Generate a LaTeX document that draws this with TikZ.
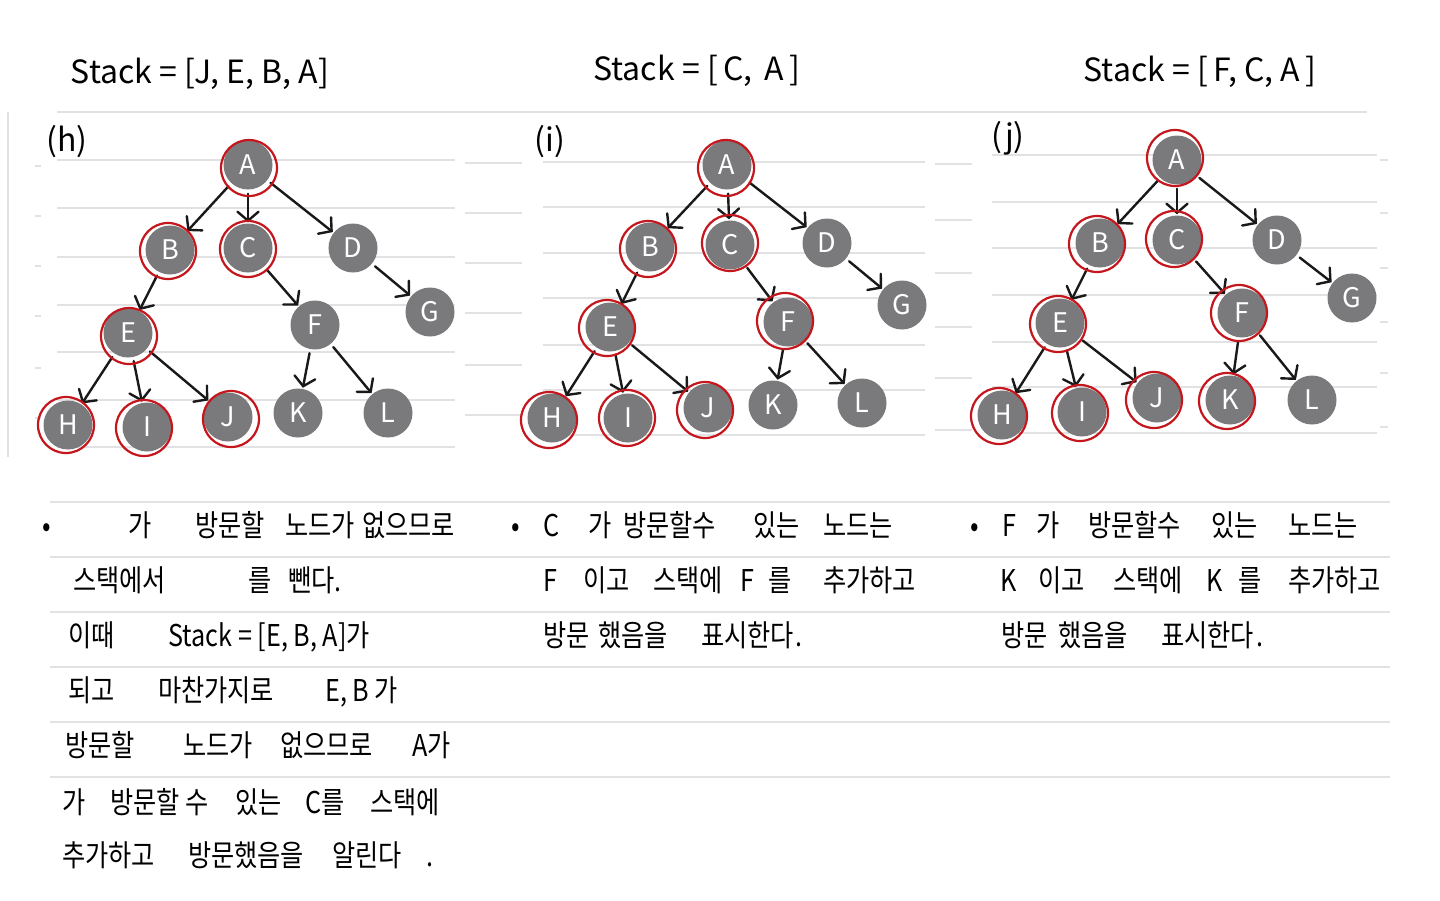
\documentclass[tikz,border=0pt]{standalone}
\usepackage{fontspec}
\setmainfont{Noto Sans CJK KR}
\newfontfamily\notefont{Noto Sans CJK KR}[FakeStretch=0.84]
\usetikzlibrary{arrows.meta,calc}
\definecolor{nodegray}{RGB}{122,122,124}
\definecolor{inkred}{RGB}{196,22,28}
\definecolor{rulegray}{RGB}{226,226,229}
\begin{document}
\begin{tikzpicture}[x=1pt,y=-1pt,
  vertex/.style={circle,fill=nodegray,text=white,minimum size=49pt,inner sep=0pt,
    font=\fontsize{27}{27}\selectfont},
  edge/.style={draw=black!90,line width=2.4pt,line cap=round,
    -{Straight Barb[length=9pt,width=21pt,line cap=round]},shorten <=4pt,shorten >=1pt},
  ring/.style={draw=inkred,line width=2.2pt},
  ruleline/.style={draw=rulegray,line width=1.2pt},
  title/.style={font=\fontsize{32}{34}\selectfont,inner sep=0pt},
  txt/.style={anchor=west,font=\notefont\fontsize{30}{32}\selectfont,inner sep=0pt,
    text height=22pt,text depth=6pt}]

\useasboundingbox (0,0) rectangle (1440,900);
\fill[white] (0,0) rectangle (1440,900);

% ---------- ruled paper ----------
\draw[ruleline] (8,112) -- (8,457);
\draw[ruleline] (57,112) -- (480,112);
\foreach \y in {160,208,257,305,352,400,447} \draw[ruleline] (57,\y) -- (455,\y);
\foreach \y in {163,213,263,313,365,415} {
  \draw[ruleline] (35,\y+3) -- (41,\y+3);
  \draw[ruleline] (465,\y) -- (522,\y);
}
\draw[ruleline] (480,112) -- (960,112);
\foreach \y in {162,207,253,298,345,390,435} \draw[ruleline] (543,\y) -- (925,\y);
\foreach \y in {164,220,273,327,378,430} \draw[ruleline] (935,\y) -- (972,\y);
\draw[ruleline] (960,112) -- (1367,112);
\foreach \y in {155,202,248,295,342,387,433} \draw[ruleline] (992,\y) -- (1377,\y);
\foreach \y in {160,213,268,322,373,427} \draw[ruleline] (1380,\y) -- (1388,\y);
\foreach \y in {502,557,612,667,722,777} \draw[ruleline] (50,\y) -- (1390,\y);

% ---------- stack titles and panel labels ----------
\node[title] (th) at (200,74) {Stack = [J, E, B, A]};
\node[title] (ti) at (697,71) {Stack = [\,C,\, A\,]};
\node[title] (tj) at (1200,72) {Stack = [\,F, C, A\,]};
\node[title] (lh) at (67,142) {(h)};
\node[title] (li) at (550,142) {(i)};
\node[title] (lj) at (1008,138) {(j)};

% ---------- tree (h) ----------
\node[vertex] (hA) at (248,165) {A};
\node[vertex] (hB) at (170,250) {B};
\node[vertex] (hC) at (248,248) {C};
\node[vertex] (hD) at (353,248) {D};
\node[vertex] (hE) at (128,333) {E};
\node[vertex] (hF) at (315,325) {F};
\node[vertex] (hG) at (430,312) {G};
\node[vertex] (hH) at (68,425) {H};
\node[vertex] (hI) at (147,427) {I};
\node[vertex] (hJ) at (228,417) {J};
\node[vertex] (hK) at (298,413) {K};
\node[vertex] (hL) at (388,413) {L};

% ---------- tree (i) ----------
\node[vertex] (iA) at (727,165) {A};
\node[vertex] (iB) at (650,247) {B};
\node[vertex] (iC) at (730,245) {C};
\node[vertex] (iD) at (827,243) {D};
\node[vertex] (iE) at (610,327) {E};
\node[vertex] (iF) at (788,322) {F};
\node[vertex] (iG) at (902,305) {G};
\node[vertex] (iH) at (552,418) {H};
\node[vertex] (iI) at (628,418) {I};
\node[vertex] (iJ) at (708,408) {J};
\node[vertex] (iK) at (773,405) {K};
\node[vertex] (iL) at (862,403) {L};

% ---------- tree (j) ----------
\node[vertex] (jA) at (1177,160) {A};
\node[vertex] (jB) at (1100,243) {B};
\node[vertex] (jC) at (1177,240) {C};
\node[vertex] (jD) at (1277,240) {D};
\node[vertex] (jE) at (1060,323) {E};
\node[vertex] (jF) at (1242,313) {F};
\node[vertex] (jG) at (1352,298) {G};
\node[vertex] (jH) at (1002,415) {H};
\node[vertex] (jI) at (1082,412) {I};
\node[vertex] (jJ) at (1157,398) {J};
\node[vertex] (jK) at (1230,400) {K};
\node[vertex] (jL) at (1312,400) {L};

% ---------- parent -> child arrows ----------
\foreach \p in {h,i,j}
  \foreach \a/\b in {A/B,A/C,A/D,B/E,C/F,D/G,E/H,E/I,E/J,F/K,F/L}
    \draw[edge] (\p\a) -- (\p\b);

% ---------- visited marks ----------
\foreach \n/\dx/\dy in {A/1/-3,B/-2/-1,C/0/-1,E/1/-3,H/-2/0,I/-3/-1,J/3/-2}
  \draw[ring] ($(h\n)+(\dx pt,\dy pt)$) circle[radius=28pt];
\foreach \n/\dx/\dy in {A/-1/-3,B/-2/-2,C/0/2,E/-3/-1,F/-3/1,H/-3/-2,I/-1/0,J/-3/-2}
  \draw[ring] ($(i\n)+(\dx pt,\dy pt)$) circle[radius=28pt];
\foreach \n/\dx/\dy in {A/-2/2,B/-3/-1,C/-3/1,E/-2/-1,F/-3/0,H/-3/-1,I/-2/-1,J/-3/-2,K/-3/-1}
  \draw[ring] ($(j\n)+(\dx pt,\dy pt)$) circle[radius=28pt];

% ---------- notes ----------
\foreach \x/\y/\t [count=\k] in {
  42/528/•, 128/528/가, 195/528/방문할, 285/528/노드가, 362/528/없으므로,
  73/583/스택에서, 248/583/를, 288/583/뺀다.,
  68/638/이때, 168/638/{Stack = [E, B, A]가},
  68/693/되고, 158/693/마찬가지로, 325/693/{E, B 가},
  65/748/방문할, 183/748/노드가, 280/748/없으므로, 412/748/A가,
  62/805/가, 110/805/{방문할 수}, 235/805/있는, 305/805/C를, 370/805/스택에,
  62/858/추가하고, 188/858/방문했음을, 332/858/알린다, 426/858/.}
  \node[txt] (nh\k) at (\x,\y) {\t};

\foreach \x/\y/\t [count=\k] in {
  511/528/•, 543/528/C, 588/528/가, 623/528/방문할수, 753/528/있는, 823/528/노드는,
  543/583/F, 583/583/이고, 653/583/스택에, 740/583/F, 768/583/를, 823/583/추가하고,
  543/638/방문, 598/638/했음을, 701/638/표시한다, 795/638/.}
  \node[txt] (ni\k) at (\x,\y) {\t};

\foreach \x/\y/\t [count=\k] in {
  970/528/•, 1002/528/F, 1036/528/가, 1088/528/방문할수, 1211/528/있는, 1288/528/노드는,
  1000/583/K, 1038/583/이고, 1113/583/스택에, 1206/583/K, 1238/583/를, 1288/583/추가하고,
  1001/638/방문, 1058/638/했음을, 1161/638/표시한다, 1256/638/.}
  \node[txt] (nj\k) at (\x,\y) {\t};

\end{tikzpicture}
\end{document}
